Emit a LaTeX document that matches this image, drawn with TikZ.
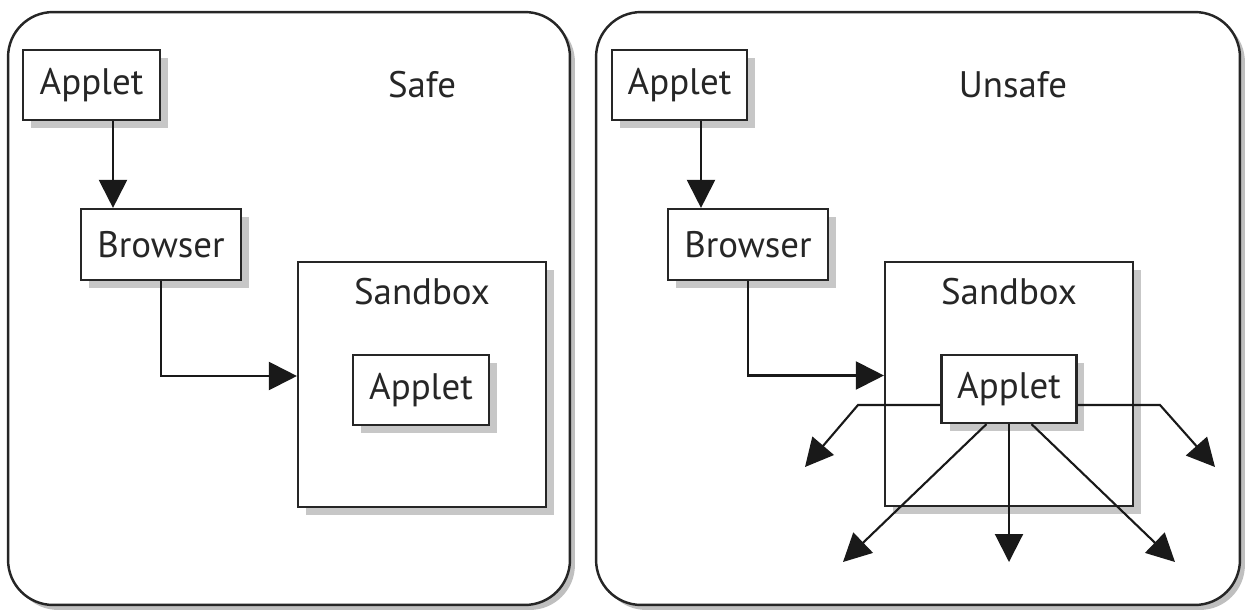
\documentclass[tikz,border=0pt]{standalone}
\usepackage{fontspec}
\setmainfont{PT Sans}
\usetikzlibrary{arrows.meta, positioning, calc, shadows}

\tikzset{
  box/.style={draw=black!85, line width=1.25pt, fill=white, inner sep=0pt,
    drop shadow={shadow xshift=0.16cm, shadow yshift=-0.16cm, fill=black!22, opacity=1}},
  panel/.style={draw=black!85, line width=1.4pt, fill=white, rounded corners=0.9cm,
    drop shadow={shadow xshift=0.1cm, shadow yshift=-0.1cm, fill=black!25, opacity=1}},
  tip/.style={draw=black!90, line width=1.2pt, -{Triangle[length=0.56cm, width=0.56cm]}},
  lbl/.style={font=\fontsize{21}{23}\selectfont, text=black!85}
}

\begin{document}
\begin{tikzpicture}[x=0.02cm, y=-0.02cm]
  \useasboundingbox (0,0) rectangle (1248,609);

  % safe side
  \node[panel, minimum width=11.24cm, minimum height=11.86cm] (safe) at (289,308.5) {};
  \node[lbl] (safetxt) at (422,85) {Safe};
  \node[box, lbl, minimum width=2.74cm, minimum height=1.4cm] (appletA) at (91.5,85) {Applet};
  \node[box, lbl, minimum width=3.2cm, minimum height=1.42cm] (browserA) at (161,244.5) {Browser};
  \node[box, minimum width=4.96cm, minimum height=4.9cm] (sandboxA) at (422,384.5) {};
  \node[lbl, below=0.22cm of sandboxA.north] (sandtxtA) {Sandbox};
  \node[box, lbl, minimum width=2.72cm, minimum height=1.4cm] (innerA) at (421,390) {Applet};
  \coordinate (a1) at ([xshift=0.43cm]appletA.south);
  \draw[tip] (a1) -- (a1 |- browserA.north);
  \draw[tip] (browserA.south) |- ([yshift=0.17cm]sandboxA.west);

  % unsafe side
  \node[panel, minimum width=12.88cm, minimum height=11.86cm] (unsafe) at (918,308.5) {};
  \node[lbl] (unsafetxt) at (1013,85) {Unsafe};
  \node[box, lbl, minimum width=2.7cm, minimum height=1.4cm] (appletB) at (679.5,85) {Applet};
  \node[box, lbl, minimum width=3.2cm, minimum height=1.42cm] (browserB) at (748,244.5) {Browser};
  \node[box, minimum width=4.96cm, minimum height=4.88cm] (sandboxB) at (1009,384) {};
  \node[lbl, below=0.22cm of sandboxB.north] (sandtxtB) {Sandbox};
  \node[box, lbl, minimum width=2.7cm, minimum height=1.36cm] (innerB) at (1009,389) {Applet};
  \coordinate (b1) at ([xshift=0.43cm]appletB.south);
  \draw[tip] (b1) -- (b1 |- browserB.north);
  \draw[tip] (browserB.south) |- ([yshift=0.17cm]sandboxB.west);

  % escaping arrows
  \coordinate (lbend) at (858,405);
  \coordinate (lend) at (805,467);
  \coordinate (rbend) at (1160,405);
  \coordinate (rend) at (1215,467);
  \coordinate (dlend) at (843,562);
  \coordinate (dmend) at (1009,562);
  \coordinate (drend) at (1175,562);
  \draw[tip] ([yshift=-0.32cm]innerB.west) -- (lbend) -- (lend);
  \draw[tip] ([yshift=-0.32cm]innerB.east) -- (rbend) -- (rend);
  \draw[tip] ([xshift=-0.45cm]innerB.south) -- (dlend);
  \draw[tip] (innerB.south) -- (dmend);
  \draw[tip] ([xshift=0.45cm]innerB.south) -- (drend);
\end{tikzpicture}
\end{document}
